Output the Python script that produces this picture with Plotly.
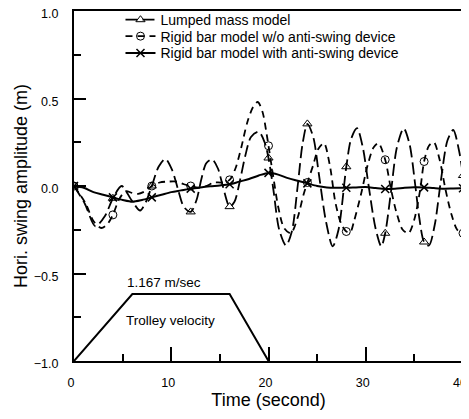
import plotly.graph_objects as go

# ---- data ----
lumped_t = [0, 1.1, 2.2, 3.2, 4, 4.9, 5.9, 6.8, 7.4, 8, 8.7, 9.4, 10.1, 10.7, 11.3, 12, 12.6, 13.1, 13.6, 14.2,
            14.8, 15.3, 16, 16.5, 17.1, 17.6, 18.2, 19.0, 19.6, 20, 20.5, 21.1, 21.8, 22.4, 23.0, 23.5, 24,
            24.6, 25.2, 25.9, 26.6, 27.2, 28, 28.5, 29.1, 29.7, 30.3, 31.0, 31.6, 32, 32.6, 33.2, 33.9, 34.5,
            35.1, 35.5, 36, 36.5, 37.1, 37.7, 38.4, 39.0, 39.6, 40]
lumped_v = [0, -0.10, -0.23, -0.17, -0.07, 0.0, -0.08, -0.14, -0.09, 0.0, 0.11, 0.155, 0.09, -0.02, -0.12, -0.148,
            -0.08, 0.04, 0.13, 0.152, 0.10, 0.0, -0.118, -0.09, 0.04, 0.17, 0.28, 0.31, 0.25, 0.16, -0.02, -0.25,
            -0.34, -0.26, 0.0, 0.24, 0.355, 0.28, 0.06, -0.2, -0.345, -0.25, 0.11, 0.27, 0.33, 0.22, 0.0, -0.24,
            -0.345, -0.27, -0.03, 0.22, 0.33, 0.24, 0.0, -0.18, -0.32, -0.34, -0.22, 0.02, 0.26, 0.32, 0.2, 0.06]

rigid_t = [0, 1.2, 2.0, 2.8, 3.4, 4, 4.6, 5.3, 6.0, 6.6, 7.3, 8, 8.8, 9.6, 10.6, 11.3, 12, 12.8, 13.6, 14.4,
           15.2, 16, 16.6, 17.2, 17.8, 18.4, 18.9, 19.4, 19.8, 20, 20.5, 21.0, 21.6, 22.3, 23.0, 23.6, 24,
           24.6, 25.1, 25.7, 26.3, 26.9, 27.5, 28, 28.4, 28.8, 29.5, 30.2, 30.8, 31.3, 32, 32.6, 33.2, 33.8,
           34.4, 35, 35.6, 36, 36.5, 37, 37.6, 38.2, 38.8, 39.4, 40]
rigid_v = [0, -0.10, -0.20, -0.24, -0.22, -0.165, -0.08, -0.03, -0.04, -0.045, -0.03, 0.0, 0.02, 0.025, 0.025,
           0.01, 0.0, -0.01, 0.0, 0.02, 0.02, 0.035, 0.10, 0.22, 0.36, 0.45, 0.48, 0.42, 0.30, 0.23, 0.05, -0.12,
           -0.24, -0.27, -0.18, -0.05, 0.02, 0.12, 0.21, 0.245, 0.12, -0.10, -0.22, -0.26, -0.265, -0.2, -0.05,
           0.12, 0.22, 0.245, 0.15, -0.02, -0.16, -0.25, -0.27, -0.19, -0.02, 0.14, 0.23, 0.25, 0.15, -0.02,
           -0.16, -0.25, -0.27]

anti_t = list(range(0, 41))
anti_v = [0, -0.01, -0.035, -0.05, -0.065, -0.08, -0.09, -0.08, -0.065, -0.05, -0.035, -0.025, -0.015, -0.008,
          -0.002, 0.003, 0.01, 0.025, 0.04, 0.06, 0.075, 0.065, 0.045, 0.03, 0.015, 0.0, -0.008, -0.01, -0.01,
          -0.008, -0.006, -0.012, -0.017, -0.015, -0.01, -0.007, -0.008, -0.012, -0.015, -0.014, -0.013]

trolley_t = [0, 6, 16, 20]
trolley_level = [-1.0, -0.617, -0.617, -1.0]

marker_every = 4  # markers drawn every 4 s

def mcolors(ts):
    return ['black' if abs(t / marker_every - round(t / marker_every)) < 1e-9 else 'rgba(0,0,0,0)' for t in ts]

fig = go.Figure()

fig.add_trace(go.Scatter(
    x=lumped_t, y=lumped_v, mode='lines+markers', name='Lumped mass model', legend='legend',
    line=dict(color='black', width=1.8, dash='12px,5px', shape='spline', smoothing=0.8),
    marker=dict(symbol='triangle-up-open', size=8, color=mcolors(lumped_t),
                line=dict(width=1, color=mcolors(lumped_t)))))

fig.add_trace(go.Scatter(
    x=rigid_t, y=rigid_v, mode='lines+markers', name='Rigid bar model w/o anti-swing device', legend='legend2',
    line=dict(color='black', width=1.8, dash='7px,5px', shape='spline', smoothing=0.8),
    marker=dict(symbol='circle-open', size=8, color=mcolors(rigid_t),
                line=dict(width=1, color=mcolors(rigid_t)))))

fig.add_trace(go.Scatter(
    x=anti_t, y=anti_v, mode='lines+markers', name='Rigid bar model with anti-swing device', legend='legend3',
    line=dict(color='black', width=2, shape='spline', smoothing=0.8),
    marker=dict(symbol='x-thin-open', size=8, color=mcolors(anti_t),
                line=dict(width=1.5, color=mcolors(anti_t)))))

fig.add_trace(go.Scatter(
    x=trolley_t, y=trolley_level, mode='lines', showlegend=False,
    line=dict(color='black', width=2)))

fig.add_annotation(x=9.3, y=-0.554, xref='x', yref='y', text='1.167 m/sec', showarrow=False,
                   font=dict(size=13.5))
fig.add_annotation(x=9.9, y=-0.766, xref='x', yref='y', text='Trolley velocity', showarrow=False,
                   font=dict(size=13.5))

fig.update_xaxes(range=[0, 40], dtick=10, tick0=0, ticks='inside', ticklen=14, tickwidth=1.5,
                 tickcolor='black', showline=True, linewidth=2, linecolor='black', mirror=True,
                 showgrid=False, zeroline=False, ticklabelstandoff=9, ticklabeloverflow='allow',
                 ticklabelshift=-3,
                 tickfont=dict(size=12.5),
                 minor=dict(dtick=5, ticks='inside', ticklen=7, tickwidth=1.5, tickcolor='black'),
                 title=dict(text='Time (second)', font=dict(size=18), standoff=2))
fig.update_yaxes(range=[-1, 1], dtick=0.5, tick0=0, tickformat='.1f', ticks='inside', ticklen=12,
                 tickwidth=1.5, tickcolor='black', showline=True, linewidth=2, linecolor='black',
                 mirror=True, showgrid=False, zeroline=False, ticklabelstandoff=11, ticklabeloverflow='allow',
                 ticklabelshift=3,
                 tickfont=dict(size=12.5),
                 minor=dict(dtick=0.25, ticks='inside', ticklen=7, tickwidth=1.5, tickcolor='black'),
                 title=dict(text='Hori. swing amplitude (m)', font=dict(size=18), standoff=2))

leg = dict(x=0.1195, xanchor='left', yanchor='middle', bgcolor='rgba(0,0,0,0)',
           font=dict(size=14), tracegroupgap=0)
fig.update_layout(
    width=461, height=403,
    margin=dict(l=66, r=6, t=3, b=50, autoexpand=False),
    font=dict(family='Liberation Sans, Arial, sans-serif', size=12, color='black'),
    plot_bgcolor='white', paper_bgcolor='white',
    legend=dict(leg, y=0.974),
    legend2=dict(leg, y=0.927),
    legend3=dict(leg, y=0.879),
)

fig.write_html('out.html')
